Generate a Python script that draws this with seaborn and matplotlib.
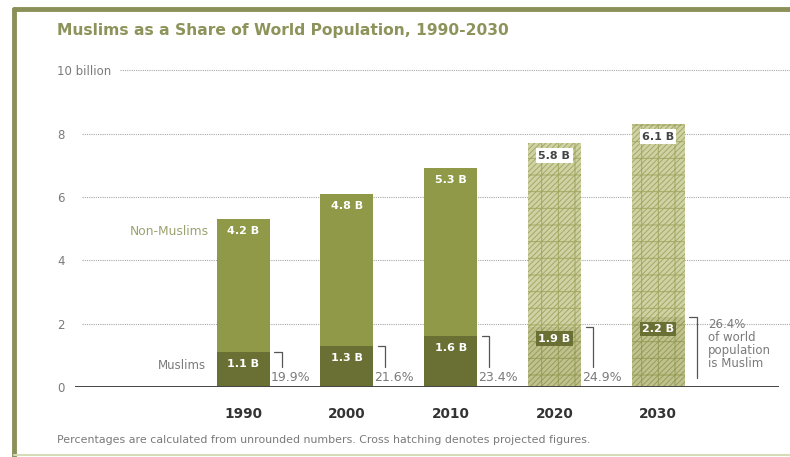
import matplotlib.pyplot as plt
import matplotlib.lines as mlines
import seaborn as sns
import pandas as pd

# data
years = ['1990', '2000', '2010', '2020', '2030']
non_muslims = [4.2, 4.8, 5.3, 5.8, 6.1]
muslims = [1.1, 1.3, 1.6, 1.9, 2.2]
shares = ['19.9%', '21.6%', '23.4%', '24.9%', '26.4%']
projected = [False, False, False, True, True]
y_ticks = [0, 2, 4, 6, 8, 10]
y_tick_labels = ['0', '2', '4', '6', '8', '10 billion']

df = pd.DataFrame({'year': years, 'non_muslims': non_muslims, 'muslims': muslims})
df['total'] = df['non_muslims'] + df['muslims']

# colours
olive = '#8f9948'
dark_olive = '#6a6f34'
light_olive = '#cfd2a4'
light_olive_m = '#bfc28e'
hatch_col = '#a4a964'
title_col = '#8d935a'
grey_txt = '#7a7a7a'

sns.set_theme(style='white')
plt.rcParams['font.family'] = ['DejaVu Sans']
plt.rcParams['hatch.linewidth'] = 0.7

fig = plt.figure(figsize=(7.9, 4.57), dpi=100)
ax = fig.add_axes([75 / 790, 0.153, 715 / 790, 0.7074])

bw = 0.51
sns.barplot(data=df, x='year', y='total', color=olive, width=bw, saturation=1, ax=ax)
sns.barplot(data=df, x='year', y='muslims', color=dark_olive, width=bw, saturation=1, ax=ax)

for i, p in enumerate(ax.patches):
    p.set_linewidth(0)
    idx = i % 5
    if projected[idx]:
        p.set_facecolor(light_olive if i < 5 else light_olive_m)
        p.set_edgecolor(hatch_col if i < 5 else '#979d58')
        p.set_hatch('//////+')

ax.set_xlim(-1.62, 5.27)
ax.set_ylim(0, 10.2)

# dotted grid lines
for t in y_ticks[1:]:
    start = -1.19 if t == 10 else -1.55
    ax.hlines(t, start, 5.27, colors='#a8a8a8', linestyles=(0, (1, 1)), lw=0.8, zorder=0)
ax.hlines(0, -1.62, 5.16, colors='#444444', lw=1.4, zorder=3)

for s in ax.spines.values():
    s.set_visible(False)

ax.set_yticks(y_ticks)
ax.set_yticklabels(y_tick_labels, ha='left', color=grey_txt, fontsize=8.5)
ax.tick_params(axis='y', length=0, pad=13)
ax.tick_params(axis='x', length=0, pad=14)
ax.set_xticks(range(len(years)))
ax.set_xticklabels(years, fontweight='bold', color='#333333', fontsize=9.8)
ax.set_xlabel('')
ax.set_ylabel('')

# value labels
for i, row in df.iterrows():
    if projected[i]:
        ax.text(i, row['total'] - 0.4, f"{row['non_muslims']:.1f} B", ha='center', va='center',
                fontsize=8, fontweight='bold', color='#444444',
                bbox=dict(boxstyle='square,pad=0.2', fc='white', ec='none'))
        ax.text(i, row['muslims'] - 0.37, f"{row['muslims']:.1f} B", ha='center', va='center',
                fontsize=8, fontweight='bold', color='white',
                bbox=dict(boxstyle='square,pad=0.2', fc=dark_olive, ec='none'))
    else:
        ax.text(i, row['total'] - 0.38, f"{row['non_muslims']:.1f} B", ha='center', va='center',
                fontsize=8, fontweight='bold', color='white')
        ax.text(i, row['muslims'] - 0.37, f"{row['muslims']:.1f} B", ha='center', va='center',
                fontsize=8, fontweight='bold', color='white')

    # bracket + share
    xv = i + 0.37
    bottom = 0.28 if i == 4 else 0.62
    ax.plot([i + 0.30, xv, xv], [row['muslims'], row['muslims'], bottom], color='#555555', lw=0.9)
    if i == 4:
        ax.text(i + 0.48, row['muslims'] - 0.03, shares[i] + '\nof world\npopulation\nis Muslim',
                ha='left', va='top', fontsize=8.5, color=grey_txt, linespacing=1.0)
    else:
        ax.text(i + 0.265, 0.3, shares[i], ha='left', va='center', fontsize=9, color=grey_txt)

ax.text(-0.33, 4.9, 'Non-Muslims', ha='right', va='center', fontsize=8.8, color='#9ca170')
ax.text(-0.36, 0.68, 'Muslims', ha='right', va='center', fontsize=8.5, color=grey_txt)

# title and note
fig.text(57 / 790, 1 - 30 / 457, 'Muslims as a Share of World Population, 1990-2030',
         ha='left', va='center', fontsize=11.2, fontweight='bold', color=title_col)
fig.text(57 / 790, 1 - 440 / 457,
         'Percentages are calculated from unrounded numbers. Cross hatching denotes projected figures.',
         ha='left', va='center', fontsize=7.9, color=grey_txt)

# frame
fig.add_artist(mlines.Line2D([14 / 790, 1], [1 - 9 / 457, 1 - 9 / 457], color='#8a9058', lw=3.5))
fig.add_artist(mlines.Line2D([14 / 790, 14 / 790], [0, 1 - 9 / 457], color='#8a9058', lw=3.5))
fig.add_artist(mlines.Line2D([14 / 790, 1], [2 / 457, 2 / 457], color='#d6dcb8', lw=1.5))

plt.savefig('out.png', dpi=100)
